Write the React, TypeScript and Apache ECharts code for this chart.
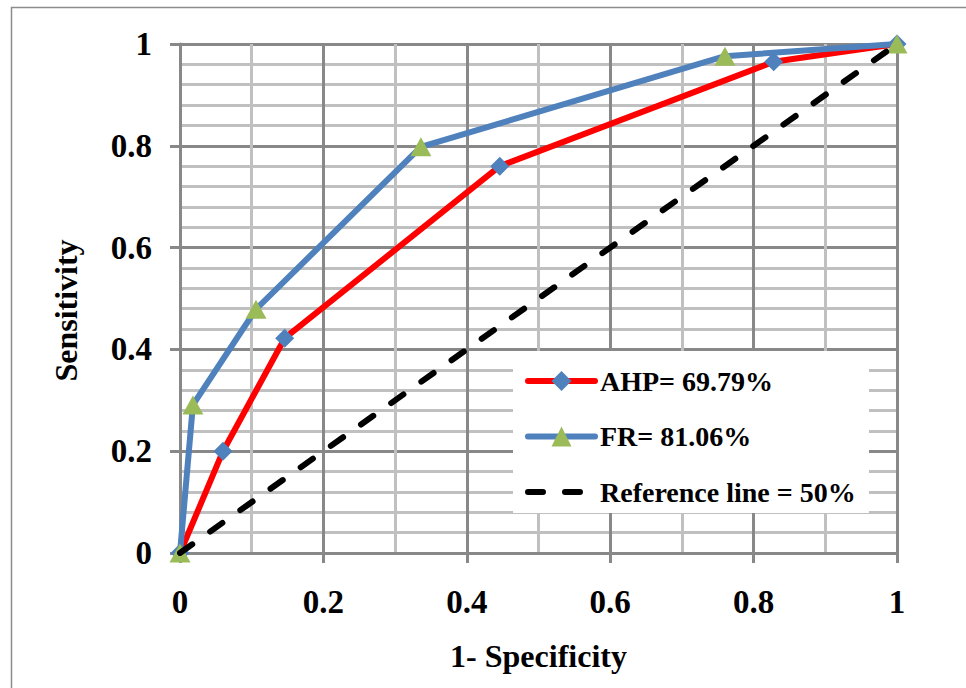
import React, { useEffect, useRef } from "react";
import * as echarts from "echarts";

const xTicks = [0, 0.2, 0.4, 0.6, 0.8, 1];
const ahpX = [0, 0.06, 0.146, 0.446, 0.828, 1];
const ahpY = [0, 0.2, 0.422, 0.76, 0.965, 1];
const frX = [0, 0.018, 0.106, 0.336, 0.76, 1];
const frY = [0, 0.291, 0.479, 0.798, 0.976, 1];
const refX = [0, 1];
const refY = [0, 1];
const seriesNames = ["AHP= 69.79%", "FR= 81.06%", "Reference line = 50%"];

const FONT = "'Liberation Serif', 'Times New Roman', serif";
const MAJOR = "#888888";
const MINOR = "#c0c0c0";

function pairs(xs: number[], ys: number[]) {
  return xs.map((x, i) => [x, ys[i]]);
}

export default function App() {
  const ref = useRef<HTMLDivElement>(null);
  useEffect(() => {
    if (!ref.current) return;
    const chart = echarts.init(ref.current, undefined, { renderer: "svg" });
    const axisCommon = {
      type: "value",
      min: xTicks[0],
      max: xTicks[xTicks.length - 1],
      interval: 0.2,
      axisLine: { show: true, lineStyle: { color: MAJOR, width: 3 } },
      axisTick: { show: true, length: 10, inside: false, lineStyle: { color: MAJOR, width: 3 } },
      splitLine: { show: true, lineStyle: { color: MAJOR, width: 3 } },
      nameTextStyle: { fontFamily: FONT, fontWeight: "bold", fontSize: 32, color: "#000" },
    };
    chart.setOption({
      animation: false,
      backgroundColor: "#fff",
      grid: { left: 180, right: 69, top: 44, bottom: 135, containLabel: false },
      xAxis: {
        ...axisCommon,
        name: "1- Specificity",
        nameLocation: "middle",
        nameGap: 87,
        minorTick: { show: false, splitNumber: 2 },
        minorSplitLine: { show: true, lineStyle: { color: MINOR, width: 3 } },
        axisLabel: { margin: 32, fontFamily: FONT, fontWeight: "bold", fontSize: 33, color: "#000" },
      },
      yAxis: {
        ...axisCommon,
        name: "Sensitivity",
        nameLocation: "middle",
        nameGap: 98,
        nameRotate: 90,
        nameTextStyle: { ...axisCommon.nameTextStyle, padding: [0, 24, 0, 0] },
        minorTick: { show: false, splitNumber: 5 },
        minorSplitLine: { show: true, lineStyle: { color: MINOR, width: 3 } },
        axisLabel: { margin: 28, fontFamily: FONT, fontWeight: "bold", fontSize: 33, color: "#000" },
      },
      graphic: [
        {
          type: "rect",
          z: 1,
          shape: { x: 513, y: 351, width: 356, height: 162 },
          style: { fill: "#ffffff" },
        },
        {
          type: "rect",
          z: 10,
          silent: true,
          shape: { x: 11.5, y: 7.5, width: 1000, height: 1000 },
          style: { fill: "none", stroke: "#8c8c8c", lineWidth: 1.5 },
        },
      ],
      legend: {
        orient: "vertical",
        left: 525,
        top: 367,
        padding: 0,
        itemWidth: 67,
        itemHeight: 25,
        itemGap: 27.5,
        backgroundColor: "transparent",
        lineStyle: { width: 6, cap: "round" },
        textStyle: { fontFamily: FONT, fontWeight: "bold", fontSize: 28, color: "#000" },
        data: [
          { name: seriesNames[0] },
          { name: seriesNames[1] },
          { name: seriesNames[2], itemStyle: { opacity: 0 } },
        ],
      },
      series: [
        {
          name: seriesNames[0],
          type: "line",
          data: pairs(ahpX, ahpY),
          symbol: "diamond",
          symbolSize: 19,
          z: 2,
          lineStyle: { color: "#ff0000", width: 6, cap: "round", join: "round" },
          itemStyle: { color: "#4f81bd" },
        },
        {
          name: seriesNames[1],
          type: "line",
          data: pairs(frX, frY),
          symbol: "triangle",
          symbolSize: [21, 19],
          z: 3,
          lineStyle: { color: "#4f81bd", width: 6, cap: "round", join: "round" },
          itemStyle: { color: "#9bbb59" },
        },
        {
          name: seriesNames[2],
          type: "line",
          data: pairs(refX, refY),
          symbol: "none",
          z: 4,
          lineStyle: { color: "#000000", width: 6, type: [15, 22], cap: "round" },
          itemStyle: { color: "#000000" },
        },
      ],
    });
    return () => chart.dispose();
  }, []);
  return (
    <div
      ref={ref}
      style={{ position: "absolute", left: 0, top: 0, width: 966, height: 688, background: "#fff" }}
    />
  );
}
